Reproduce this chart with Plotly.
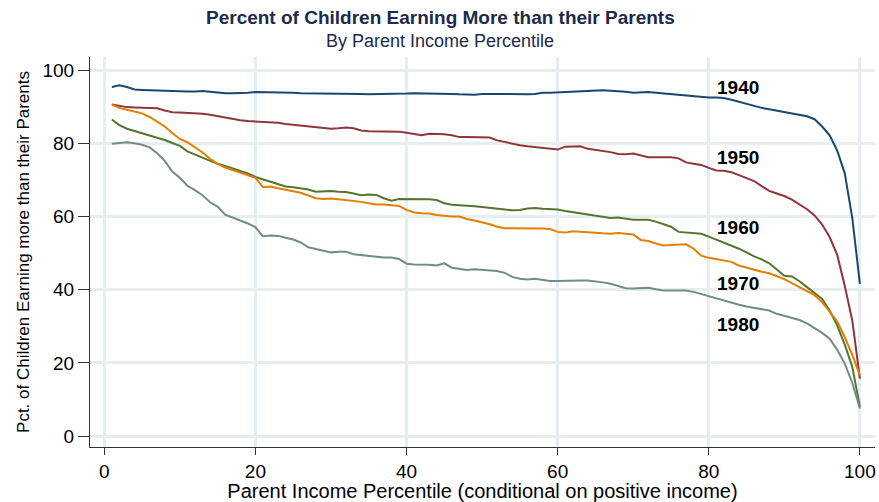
import plotly.graph_objects as go

percentiles = list(range(1, 101))

cohort_1940 = [95.4, 95.9, 95.4, 94.7, 94.6, 94.5, 94.5, 94.3, 94.2, 94.1,
               94.2, 94.2, 94.3, 94.1, 93.8, 93.7, 93.7, 93.7, 93.8, 94.0,
               94.0, 93.9, 93.9, 93.8, 93.8, 93.7, 93.7, 93.6, 93.6, 93.7,
               93.6, 93.6, 93.6, 93.5, 93.4, 93.4, 93.5, 93.6, 93.6, 93.6,
               93.7, 93.7, 93.7, 93.6, 93.6, 93.5, 93.4, 93.3, 93.3, 93.5,
               93.6, 93.5, 93.5, 93.4, 93.4, 93.4, 93.5, 93.8, 93.8, 93.9,
               94.1, 94.2, 94.3, 94.4, 94.5, 94.5, 94.4, 94.3, 94.1, 93.8,
               93.9, 94.0, 93.8, 93.6, 93.5, 93.3, 93.1, 92.9, 92.7, 92.5,
               92.5, 92.4, 91.9, 91.3, 90.7, 90.2, 89.7, 89.3, 88.9, 88.4,
               88.1, 87.8, 87.4, 86.6, 84.6, 82.2, 78.0, 71.8, 59.5, 41.6]

cohort_1950 = [90.6, 90.2, 89.9, 89.8, 89.8, 89.7, 89.6, 89.0, 88.5, 88.4,
               88.3, 88.3, 88.1, 87.8, 87.4, 87.0, 86.7, 86.3, 86.1, 86.0,
               85.9, 85.9, 85.6, 85.3, 85.1, 84.9, 84.7, 84.4, 84.2, 84.0,
               84.1, 84.3, 84.1, 83.5, 83.3, 83.3, 83.3, 83.3, 83.2, 82.9,
               82.5, 82.2, 82.6, 82.6, 82.5, 82.2, 81.7, 81.7, 81.6, 81.6,
               81.6, 80.8, 80.3, 79.9, 79.5, 79.2, 79.0, 78.8, 78.5, 78.3,
               79.1, 79.2, 79.2, 78.5, 78.2, 78.1, 77.6, 77.1, 77.0, 77.2,
               76.7, 76.2, 76.2, 76.2, 76.2, 75.9, 74.8, 74.4, 74.1, 73.3,
               72.6, 72.5, 72.1, 71.3, 70.6, 69.7, 68.3, 67.0, 66.3, 65.6,
               64.6, 63.4, 62.0, 60.3, 57.8, 54.4, 49.5, 41.0, 31.5, 15.7]

cohort_1960 = [86.5, 85.0, 84.0, 83.4, 82.8, 82.2, 81.6, 80.9, 80.1, 79.3,
               77.8, 76.9, 76.0, 75.2, 74.4, 73.8, 73.2, 72.5, 71.8, 70.8,
               70.1, 69.6, 68.9, 68.2, 68.0, 67.7, 67.4, 66.8, 66.9, 67.0,
               66.8, 66.7, 66.3, 65.8, 66.0, 65.9, 65.0, 64.3, 64.8, 64.8,
               64.9, 64.9, 64.7, 64.5, 63.6, 63.2, 63.0, 62.9, 62.8, 62.6,
               62.3, 62.1, 61.9, 61.7, 61.8, 62.2, 62.3, 62.1, 62.0, 61.9,
               61.5, 61.2, 60.9, 60.6, 60.1, 59.8, 59.6, 59.7, 59.3, 59.1,
               59.1, 59.1, 58.6, 58.0, 57.2, 55.8, 55.6, 55.5, 55.3, 54.5,
               53.7, 52.7, 51.9, 51.2, 50.2, 49.1, 48.3, 47.2, 45.5, 43.8,
               43.6, 42.3, 40.7, 39.2, 37.5, 34.3, 30.2, 25.0, 18.9, 8.0]

cohort_1970 = [90.6, 89.7, 89.2, 88.7, 88.2, 87.2, 86.0, 84.6, 82.8, 81.2,
               80.3, 78.9, 77.5, 75.8, 74.4, 73.4, 72.7, 71.9, 71.3, 70.6,
               68.0, 68.2, 67.7, 67.4, 66.9, 66.5, 65.8, 65.0, 64.8, 64.9,
               64.7, 64.5, 64.3, 64.0, 63.6, 63.3, 63.3, 63.2, 62.9, 61.8,
               61.1, 60.9, 60.8, 60.4, 60.1, 60.0, 60.0, 59.3, 58.9, 58.5,
               57.9, 57.2, 56.8, 56.8, 56.7, 56.7, 56.7, 56.7, 56.6, 55.8,
               55.6, 56.0, 55.9, 55.8, 55.6, 55.4, 55.3, 55.5, 55.3, 55.1,
               53.6, 53.3, 52.6, 52.1, 52.2, 52.3, 52.4, 51.2, 49.3, 48.7,
               48.3, 48.1, 47.6, 46.6, 46.0, 45.3, 44.9, 44.5, 43.8, 42.9,
               41.8, 40.7, 39.8, 38.5, 36.6, 34.0, 31.3, 27.0, 22.2, 16.6]

cohort_1980 = [79.9, 80.2, 80.3, 80.0, 79.6, 78.9, 77.3, 75.2, 72.3, 70.6,
               68.4, 67.2, 65.8, 63.9, 62.7, 60.5, 59.7, 59.0, 58.1, 57.1,
               54.6, 54.8, 54.7, 54.2, 53.7, 52.9, 51.6, 51.1, 50.7, 50.2,
               50.4, 50.4, 49.7, 49.4, 49.2, 49.0, 48.8, 48.8, 48.4, 47.1,
               46.9, 46.9, 46.8, 46.6, 47.2, 46.0, 45.8, 45.4, 45.6, 45.5,
               45.3, 45.1, 44.6, 43.5, 43.0, 42.8, 43.0, 42.7, 42.4, 42.4,
               42.5, 42.5, 42.5, 42.5, 42.3, 42.0, 41.6, 40.9, 40.4, 40.3,
               40.4, 40.5, 40.1, 39.8, 39.8, 39.9, 39.8, 39.4, 38.8, 38.3,
               37.6, 37.0, 36.3, 35.9, 35.4, 35.0, 34.7, 34.3, 33.4, 32.8,
               32.2, 31.7, 30.8, 29.6, 28.2, 26.6, 23.6, 19.8, 14.5, 7.5]

cohorts = ["1940", "1950", "1960", "1970", "1980"]
series = [cohort_1940, cohort_1950, cohort_1960, cohort_1970, cohort_1980]
colors = ["#1a476f", "#90353b", "#55752f", "#e37e00", "#6e8e84"]

# where the cohort labels sit (data coords)
label_x = 80.8
label_y = [95.3, 76.1, 57.0, 41.7, 30.6]

fig = go.Figure()
for name, vals, col in zip(cohorts, series, colors):
    fig.add_trace(go.Scatter(x=percentiles, y=vals, mode="lines", name=name,
                             line=dict(color=col, width=2)))

for name, ly in zip(cohorts, label_y):
    fig.add_annotation(x=label_x, y=ly, text="<b>" + name + "</b>", showarrow=False,
                       xanchor="left", yanchor="middle",
                       font=dict(size=19, color="black"))

fig.add_annotation(xref="paper", yref="paper", x=0.446, y=1.1,
                   text="<b>Percent of Children Earning More than their Parents</b>",
                   showarrow=False, xanchor="center", yanchor="middle",
                   font=dict(size=19, color="#1c2a4c"))
fig.add_annotation(xref="paper", yref="paper", x=0.446, y=1.041,
                   text="By Parent Income Percentile",
                   showarrow=False, xanchor="center", yanchor="middle",
                   font=dict(size=18, color="#1c2a4c"))

grid = "#e6eef1"
fig.update_layout(
    width=879, height=502,
    margin=dict(l=90, r=4, t=57, b=55),
    plot_bgcolor="white", paper_bgcolor="white",
    showlegend=False,
    font=dict(family="Liberation Sans, Arial, sans-serif", color="black"),
    xaxis=dict(range=[-1.89, 102.0], tickvals=[0, 20, 40, 60, 80, 100],
               showgrid=True, gridcolor=grid, gridwidth=2.5, zeroline=False,
               showline=True, linecolor="#333333", linewidth=1,
               ticks="outside", ticklen=7, tickcolor="#333333",
               tickfont=dict(size=19),
               title=dict(text="Parent Income Percentile (conditional on positive income)",
                          font=dict(size=20), standoff=2)),
    yaxis=dict(range=[-3.0, 103.6], tickvals=[0, 20, 40, 60, 80, 100],
               showgrid=True, gridcolor=grid, gridwidth=2.5, zeroline=False,
               showline=True, linecolor="#333333", linewidth=1,
               ticks="outside", ticklen=11, tickcolor="#333333",
               tickfont=dict(size=19),
               title=dict(text="Pct. of Children Earning more than their Parents",
                          font=dict(size=17), standoff=8)),
)

# drop the browser's default body margin so the figure sits at the page corner
fig.write_html("out.html", config={"displayModeBar": False},
               post_script="document.body.style.margin='0';")
